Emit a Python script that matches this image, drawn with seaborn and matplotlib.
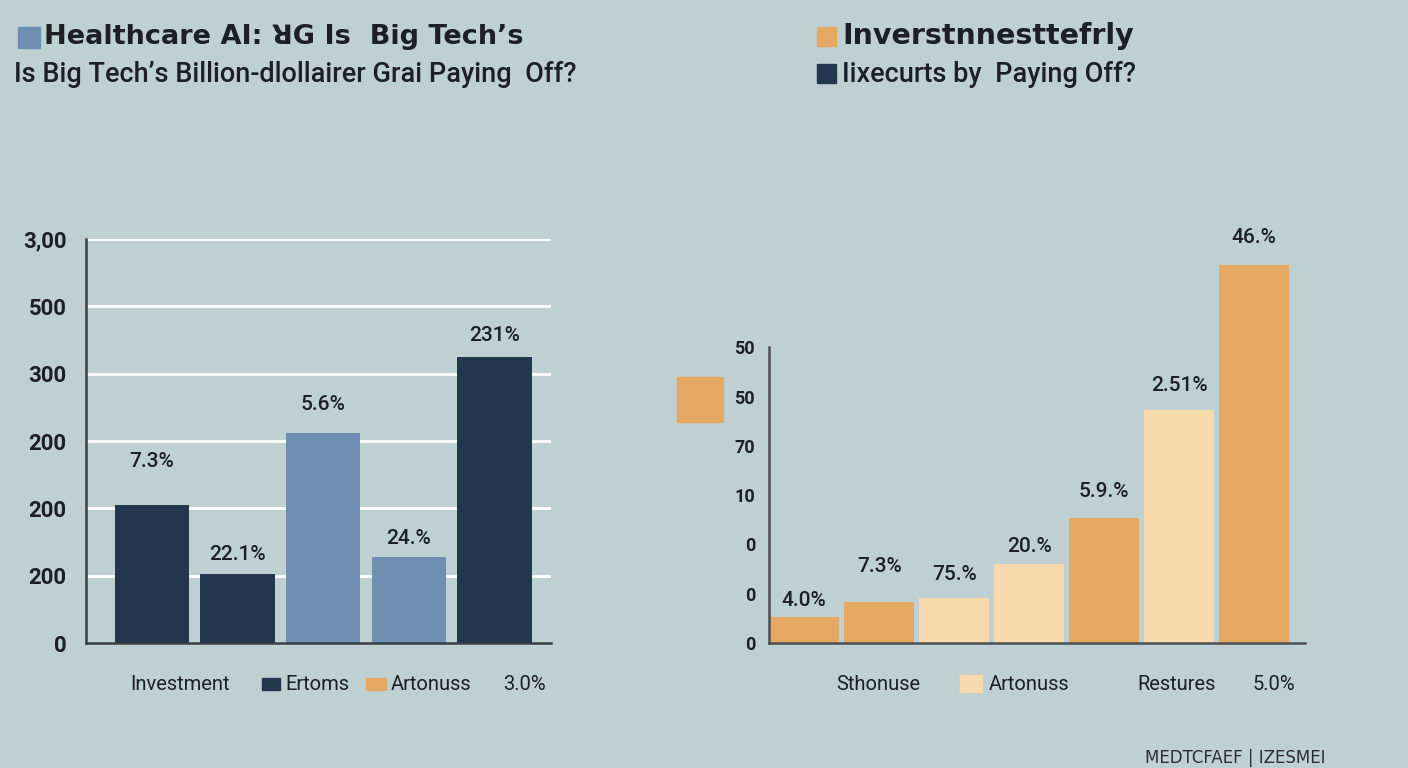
import numpy as np
import pandas as pd
import matplotlib
matplotlib.use("Agg")
import matplotlib.pyplot as plt
import matplotlib.patches as mpatches
import seaborn as sns

# ===== DATA =====
left_bars = ["b1", "b2", "b3", "b4", "b5"]
left_values = [2.05, 1.03, 3.12, 1.28, 4.25]
left_labels = ["7.3%", "22.1%", "5.6%", "24.%", "231%"]
left_ticks = ["0", "200", "200", "200", "300", "500", "3,00"]

right_bars = ["c1", "c2", "c3", "c4", "c5", "c6", "c7"]
right_values = [0.53, 0.83, 0.91, 1.60, 2.54, 4.73, 7.67]
right_labels = ["4.0%", "7.3%", "75.%", "20.%", "5.9.%", "2.51%", "46.%"]
right_ticks = ["0", "0", "0", "10", "70", "50", "50"]

# ===== STYLE =====
BG = "#bfd0d3"
NAVY = "#22364d"
BLUE = "#6f8fb2"
ORANGE = "#e5a862"
PEACH = "#f8d9ab"
TXT = "#1c1f24"
RB = ["Roboto", "DejaVu Sans"]

left_colors = [NAVY, NAVY, BLUE, BLUE, NAVY]
right_colors = [ORANGE, ORANGE, PEACH, PEACH, ORANGE, PEACH, ORANGE]
left_pad = [43, 19, 28, 18, 21]
right_pad = [16, 36, 24, 18, 26, 24, 27]

sns.set_style("white")
plt.rcParams["font.family"] = ["DejaVu Sans"]

W, H = 1408, 768
fig = plt.figure(figsize=(W / 100, H / 100), dpi=100)
fig.patch.set_facecolor(BG)


def px_axes(x0, y_top, x1, y_bot):
    return fig.add_axes([x0 / W, (H - y_bot) / H, (x1 - x0) / W, (y_bot - y_top) / H])


# ===== LEFT CHART =====
ax1 = px_axes(86, 239, 551, 643)
ax1.set_facecolor("none")
df1 = pd.DataFrame({"bar": left_bars, "val": left_values})
sns.barplot(data=df1, x="bar", y="val", hue="bar", palette=dict(zip(left_bars, left_colors)),
            legend=False, width=0.87, saturation=1, linewidth=0, edgecolor="none", ax=ax1)
ax1.set_xlim(-0.77, 4.66)
ax1.set_ylim(0, 6)
ax1.set_yticks(range(7))
ax1.set_yticklabels(left_ticks, fontsize=16, fontweight="bold", color=TXT, family=RB)
ax1.set_xticks([])
ax1.set_xlabel("")
ax1.set_ylabel("")
for yv in range(1, 7):
    ax1.axhline(yv, color="white", lw=2, zorder=0.5)
for s in ["top", "right"]:
    ax1.spines[s].set_visible(False)
for s in ["left", "bottom"]:
    ax1.spines[s].set_color("#3a3f45")
    ax1.spines[s].set_linewidth(1.8)
ax1.tick_params(axis="y", length=6, width=1.2, color="#3a3f45", pad=8)
for i, (v, lab) in enumerate(zip(left_values, left_labels)):
    ax1.annotate(lab, (i, v), xytext=(0, left_pad[i]), textcoords="offset pixels",
                 ha="center", va="center", fontsize=15, color=TXT,
                 family=RB, fontweight="medium")

# ===== RIGHT CHART =====
ax2 = px_axes(769, 220, 1305, 643)
ax2.set_facecolor("none")
df2 = pd.DataFrame({"bar": right_bars, "val": right_values})
sns.barplot(data=df2, x="bar", y="val", hue="bar", palette=dict(zip(right_bars, right_colors)),
            legend=False, width=0.93, saturation=1, linewidth=0, edgecolor="none", ax=ax2)
ax2.set_xlim(-0.47, 6.68)
ax2.set_ylim(0, 423 / 49.3)
ax2.set_yticks(range(7))
ax2.set_yticklabels(right_ticks, fontsize=13, fontweight="bold", color=TXT, family=RB)
ax2.set_xticks([])
ax2.set_xlabel("")
ax2.set_ylabel("")
for s in ["top", "right"]:
    ax2.spines[s].set_visible(False)
for s in ["left", "bottom"]:
    ax2.spines[s].set_color("#4a4f55")
    ax2.spines[s].set_linewidth(1.8)
ax2.spines["left"].set_bounds(0, 6)
ax2.tick_params(axis="y", length=5, width=1.2, color="#4a4f55", pad=5)
for i, (v, lab) in enumerate(zip(right_values, right_labels)):
    ax2.annotate(lab, (i, v), xytext=(0, right_pad[i]), textcoords="offset pixels",
                 ha="center", va="center", fontsize=15, color=TXT,
                 family=RB, fontweight="medium")


# ===== TITLES / LEGEND-LIKE TEXT =====
def square(x, y, w, h, color):
    fig.patches.append(mpatches.Rectangle((x / W, (H - y - h) / H), w / W, h / H,
                                          transform=fig.transFigure, color=color))


def ftext(x, y, s, **kw):
    fig.text(x / W, (H - y) / H, s, va="center", color=TXT, **kw)


square(18, 27, 22, 21, BLUE)
ftext(44, 37, "Healthcare AI: ꓤG Is  Big Tech’s", fontsize=19.5, fontweight="bold")
ftext(14, 75, "Is Big Tech’s Billion-dlollairer Grai Paying  Off?", fontsize=19.5,
      family=RB, fontweight="medium")

square(817, 27, 19, 19, ORANGE)
ftext(842, 36, "Inverstnnesttefrly", fontsize=20.5, fontweight="bold")
square(817, 64, 19, 19, NAVY)
ftext(842, 74, "Iixecurts by  Paying Off?", fontsize=19.5, family=RB, fontweight="medium")

square(677, 377, 46, 45, ORANGE)

# bottom row, left
ftext(130, 684, "Investment", fontsize=14.5, family=RB)
square(262, 678, 18, 12, NAVY)
ftext(285, 684, "Ertoms", fontsize=14.5, family=RB)
square(366, 678, 20, 12, ORANGE)
ftext(391, 684, "Artonuss", fontsize=14.5, family=RB)
ftext(503, 684, "3.0%", fontsize=14.5, family=RB)

# bottom row, right
ftext(836, 684, "Sthonuse", fontsize=14.5, family=RB)
square(960, 675, 22, 17, PEACH)
ftext(989, 684, "Artonuss", fontsize=14.5, family=RB)
ftext(1137, 684, "Restures", fontsize=14.5, family=RB)
ftext(1253, 684, "5.0%", fontsize=14.5, family=RB)

# watermark at the bottom edge
fig.text(1145 / W, 1 / H, "MEDTCFAEF | IZESMEI", fontsize=12, color="#2a2d33",
         va="bottom", ha="left")

fig.savefig("out.png", dpi=100, facecolor=BG)
